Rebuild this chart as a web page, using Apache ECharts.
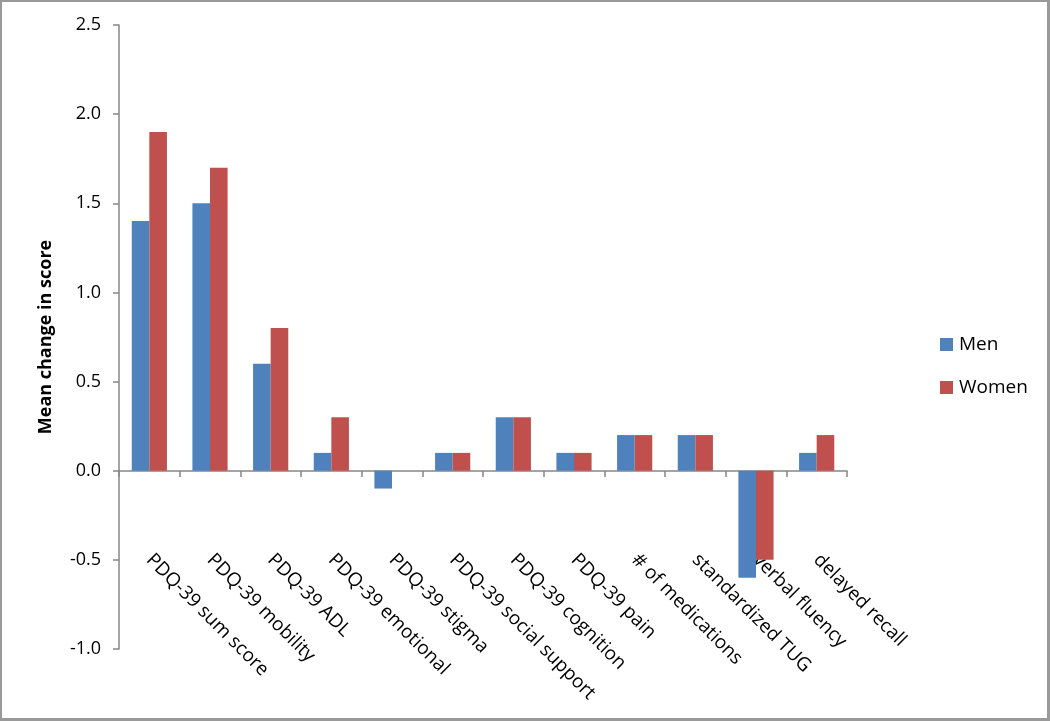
<!DOCTYPE html>
<html>
<head>
<meta charset="utf-8">
<script src="https://cdn.jsdelivr.net/npm/echarts@6/dist/echarts.min.js"></script>
<style>
html,body{margin:0;padding:0;background:#fff;}
#wrap{position:absolute;left:0;top:0;width:1050px;height:721px;box-sizing:border-box;border:2px solid #9a9a9a;border-right-width:3px;border-bottom-width:3px;}
#chart{position:absolute;left:-2px;top:-2px;width:1050px;height:721px;}
</style>
</head>
<body>
<div id="wrap"><div id="chart"></div></div>
<script>
const categories = ["PDQ-39 sum score","PDQ-39 mobility","PDQ-39 ADL","PDQ-39 emotional","PDQ-39 stigma","PDQ-39 social support","PDQ-39 cognition","PDQ-39 pain","# of medications","standardized TUG","verbal fluency","delayed recall"];
const men   = [1.4, 1.5, 0.6, 0.1, -0.1, 0.1, 0.3, 0.1, 0.2, 0.2, -0.6, 0.1];
const women = [1.9, 1.7, 0.8, 0.3, 0.0, 0.1, 0.3, 0.1, 0.2, 0.2, -0.5, 0.2];
const yTitle = "Mean change in score";

const font = "'Open Sans', 'Liberation Sans', sans-serif";
const chart = echarts.init(document.getElementById('chart'), null, {renderer:'canvas'});
chart.setOption({
  animation:false,
  backgroundColor:'transparent',
  textStyle:{fontFamily:font},
  grid:{left:119, right:203, top:25, bottom:72, containLabel:false, outerBoundsMode:'none'},
  legend:{
    orient:'vertical', left:935, top:330, itemWidth:13, itemHeight:13, itemGap:24,
    icon:'rect',
    textStyle:{fontSize:19, color:'#000', fontFamily:font, padding:[0,0,0,1]},
    data:['Men','Women']
  },
  xAxis:{
    type:'category', data:categories, position:'bottom', offset:-178,
    axisLine:{onZero:false, lineStyle:{color:'#868686', width:1.5}},
    axisTick:{show:true, length:6, lineStyle:{color:'#868686', width:1.5}},
    axisLabel:{show:true, rotate:-45, margin:86, fontSize:19, color:'#000', fontFamily:font, interval:0, hideOverlap:false}
  },
  yAxis:{
    type:'value', min:-1, max:2.5, interval:0.5,
    name:yTitle, nameLocation:'middle', nameGap:64, nameRotate:90,
    nameTextStyle:{fontSize:18, fontWeight:'bold', color:'#000', fontFamily:font},
    axisLine:{show:true, lineStyle:{color:'#868686', width:1.5}},
    axisTick:{show:true, length:6, lineStyle:{color:'#868686', width:1.5}},
    splitLine:{show:false},
    axisLabel:{margin:18, fontSize:18, color:'#000', fontFamily:font, formatter:v=>v.toFixed(1)}
  },
  series:[
    {name:'Men', type:'bar', data:men, barGap:'0%', barCategoryGap:'42%', itemStyle:{color:'#4F81BD'}},
    {name:'Women', type:'bar', data:women, barGap:'0%', barCategoryGap:'42%', itemStyle:{color:'#C0504D'}}
  ]
});
</script>
</body>
</html>
